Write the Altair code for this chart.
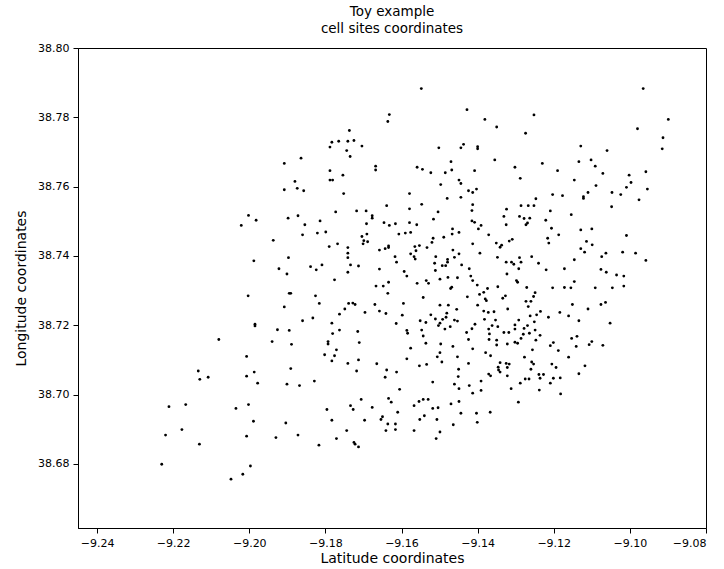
import altair as alt
import pandas as pd

# x values ("Latitude coordinates")
lat = [
 -9.1908, -9.1908, -9.2002, -9.1982, -9.2021, -9.1898,
 -9.1548, -9.1632, -9.1636, -9.1737, -9.1783, -9.1765, -9.1741, -9.1725, -9.1788, -9.1744,
 -9.1704, -9.1735, -9.1864, -9.1668, -9.1668, -9.1788, -9.1559, -9.1545, -9.1880, -9.1874,
 -9.1857, -9.1788, -9.1781, -9.1754, -9.1752, -9.1579, -9.1639, -9.1579, -9.1547, -9.1872,
 -9.1854, -9.1814, -9.1773, -9.1718, -9.1693, -9.1677, -9.1677, -9.1692, -9.1646, -9.1632,
 -9.1616, -9.1579, -9.1560,
 -9.1428, -9.1381, -9.1252, -9.1350, -9.1274, -9.1502, -9.1444, -9.1437, -9.1400, -9.1400,
 -9.1355, -9.1470, -9.1485, -9.1468, -9.1523, -9.1408, -9.1302, -9.1230, -9.1190, -9.1288,
 -9.1449, -9.1444, -9.1497, -9.1424, -9.1413, -9.1403, -9.1480, -9.1444, -9.1413, -9.1415,
 -9.1247, -9.1203, -9.1177, -9.1504, -9.1516, -9.1324, -9.1286, -9.1267, -9.1252, -9.1209,
 -9.1331, -9.1290, -9.1278, -9.1263, -9.1221, -9.1415, -9.1408, -9.1391, -9.1325, -9.1273,
 -9.1269, -9.1466, -9.1398, -9.1206,
 -9.0965, -9.0899, -9.0980, -9.0913, -9.0915, -9.1129, -9.1060, -9.1134, -9.1102, -9.1091,
 -9.1071, -9.1146, -9.1089, -9.1002, -9.0958, -9.0997, -9.1009, -9.0954, -9.1110, -9.1122,
 -9.1122, -9.1047, -9.1024, -9.0976, -9.1048, -9.1154, -9.1129, -9.1100,
 -9.1937, -9.1897, -9.1988, -9.1922, -9.1901, -9.1895, -9.2003, -9.1908, -9.1985, -9.1985,
 -9.1926, -9.1895, -9.2080, -9.1940, -9.2007, -9.2134, -9.2108, -9.2130, -9.2007, -9.1987,
 -9.1860, -9.1821, -9.1799, -9.1691, -9.1704, -9.1699, -9.1689, -9.1701, -9.1607, -9.1590,
 -9.1576, -9.1790, -9.1768, -9.1741, -9.1741, -9.1741, -9.1658, -9.1643, -9.1634, -9.1634,
 -9.1617, -9.1613, -9.1565, -9.1553, -9.1562, -9.1576, -9.1567, -9.1564, -9.1533, -9.1839,
 -9.1824, -9.1809, -9.1734, -9.1713, -9.1741, -9.1658, -9.1593, -9.1586, -9.1776, -9.1667,
 -9.1648, -9.1634, -9.1636, -9.1559, -9.1535, -9.1529, -9.1891, -9.1826, -9.1816, -9.1739,
 -9.1728, -9.1722, -9.1749, -9.1763, -9.1670, -9.1696, -9.1658, -9.1641, -9.1595, -9.1598,
 -9.1614, -9.1543, -9.1860, -9.1833, -9.1783, -9.1763, -9.1781, -9.1715, -9.1711, -9.1793,
 -9.1793, -9.1889, -9.1771, -9.1802, -9.1776, -9.1783, -9.1713, -9.1741, -9.1665, -9.1718,
 -9.1639, -9.1613, -9.1643, -9.1891, -9.1586, -9.1584, -9.1551, -9.1536, -9.1547, -9.1543,
 -9.1536, -9.1576, -9.1586, -9.1553, -9.1534,
 -9.1517, -9.1520, -9.1489, -9.1467, -9.1449, -9.1371, -9.1413, -9.1351, -9.1341, -9.1337,
 -9.1317, -9.1309, -9.1216, -9.1213, -9.1187, -9.1465, -9.1449, -9.1461, -9.1479, -9.1479,
 -9.1510, -9.1513, -9.1493, -9.1484, -9.1511, -9.1442, -9.1422, -9.1394, -9.1348, -9.1325,
 -9.1311, -9.1305, -9.1290, -9.1286, -9.1292, -9.1258, -9.1240, -9.1220, -9.1172, -9.1323,
 -9.1298, -9.1295, -9.1418, -9.1413, -9.1401, -9.1499, -9.1478, -9.1453, -9.1468, -9.1471,
 -9.1374, -9.1384, -9.1395, -9.1380, -9.1377, -9.1427, -9.1347, -9.1334, -9.1327, -9.1271,
 -9.1249, -9.1253, -9.1273, -9.1260, -9.1267, -9.1203, -9.1172, -9.1499, -9.1477, -9.1400,
 -9.1321, -9.1455, -9.1481, -9.1523, -9.1511, -9.1492, -9.1483, -9.1499, -9.1503, -9.1486,
 -9.1472, -9.1461, -9.1453, -9.1384, -9.1372, -9.1357, -9.1382, -9.1353, -9.1407, -9.1415,
 -9.1429, -9.1362, -9.1371, -9.1347, -9.1369, -9.1331, -9.1370, -9.1350, -9.1302, -9.1302,
 -9.1278, -9.1269, -9.1280, -9.1286, -9.1264, -9.1249, -9.1251, -9.1292, -9.1262, -9.1245,
 -9.1235, -9.1214, -9.1184, -9.1161, -9.1236, -9.1247, -9.1318, -9.1302, -9.1295, -9.1322,
 -9.1350, -9.1424, -9.1497, -9.1465, -9.1413, -9.1499, -9.1506, -9.1494, -9.1453, -9.1379,
 -9.1366, -9.1201, -9.1209, -9.1188, -9.1256, -9.1277, -9.1258, -9.1253, -9.1260, -9.1205,
 -9.1194, -9.1161, -9.1424, -9.1450, -9.1341, -9.1325, -9.1317, -9.1346, -9.1322, -9.1345,
 -9.1341, -9.1371, -9.1366, -9.1451, -9.1322, -9.1239, -9.1227, -9.1236, -9.1275, -9.1265,
 -9.1201, -9.1183,
 -9.1009, -9.1114, -9.1099, -9.1129, -9.1119, -9.1063, -9.1074, -9.1019, -9.0985, -9.0958,
 -9.1146, -9.1076, -9.1062, -9.1035, -9.1016, -9.1146, -9.1155, -9.1091, -9.1046, -9.1016,
 -9.1151, -9.1110, -9.1076, -9.1064, -9.1134, -9.1052, -9.1153, -9.1139, -9.1141, -9.1107,
 -9.1100, -9.1071, -9.1118, -9.1134,
 -9.1978, -9.1901, -9.2211, -9.2167, -9.2035, -9.2002, -9.1989, -9.1904, -9.2220, -9.2177,
 -9.2131, -9.2007, -9.1930, -9.2230, -9.1997, -9.2017, -9.2048,
 -9.1868, -9.1829, -9.1605, -9.1706, -9.1634, -9.1627, -9.1734, -9.1727, -9.1796, -9.1677,
 -9.1783, -9.1697, -9.1650, -9.1654, -9.1610, -9.1636, -9.1616, -9.1641, -9.1616, -9.1567,
 -9.1554, -9.1543, -9.1530, -9.1552, -9.1540, -9.1567, -9.1872, -9.1744, -9.1771, -9.1817,
 -9.1725, -9.1722, -9.1713,
 -9.1518, -9.1461, -9.1449, -9.1422, -9.1391, -9.1413, -9.1391, -9.1312, -9.1288, -9.1238,
 -9.1209, -9.1182, -9.1518, -9.1504, -9.1470, -9.1449, -9.1444, -9.1403, -9.1367, -9.1293,
 -9.1507, -9.1464, -9.1401, -9.1499, -9.1509,
]

# y values ("Longitude coordinates")
lon = [
 38.7667, 38.7591, 38.7517, 38.7503, 38.7488, 38.7509,
 38.7883, 38.7808, 38.7788, 38.7762, 38.7728, 38.7731, 38.7731, 38.7733, 38.7714, 38.7704,
 38.7717, 38.7687, 38.7682, 38.7659, 38.7648, 38.7646, 38.7656, 38.7650, 38.7615, 38.7595,
 38.7588, 38.7619, 38.7619, 38.7633, 38.7580, 38.7580, 38.7545, 38.7536, 38.7549, 38.7516,
 38.7490, 38.7501, 38.7527, 38.7530, 38.7530, 38.7516, 38.7509, 38.7493, 38.7496, 38.7488,
 38.7493, 38.7496, 38.7490,
 38.7822, 38.7794, 38.7807, 38.7772, 38.7754, 38.7712, 38.7712, 38.7722, 38.7715, 38.7709,
 38.7677, 38.7672, 38.7640, 38.7648, 38.7640, 38.7646, 38.7656, 38.7667, 38.7646, 38.7624,
 38.7619, 38.7609, 38.7606, 38.7588, 38.7583, 38.7593, 38.7566, 38.7569, 38.7548, 38.7531,
 38.7565, 38.7577, 38.7574, 38.7527, 38.7506, 38.7535, 38.7545, 38.7545, 38.7545, 38.7530,
 38.7514, 38.7514, 38.7508, 38.7509, 38.7503, 38.7501, 38.7497, 38.7488, 38.7490, 38.7490,
 38.7495, 38.7478, 38.7478, 38.7480,
 38.7883, 38.7794, 38.7767, 38.7741, 38.7709, 38.7717, 38.7704, 38.7672, 38.7677, 38.7659,
 38.7638, 38.7619, 38.7603, 38.7633, 38.7643, 38.7612, 38.7598, 38.7593, 38.7583, 38.7571,
 38.7566, 38.7583, 38.7577, 38.7562, 38.7542, 38.7519, 38.7475, 38.7478,
 38.7445, 38.7395, 38.7386, 38.7363, 38.7348, 38.7292, 38.7285, 38.7253, 38.7203, 38.7198,
 38.7187, 38.7185, 38.7159, 38.7153, 38.7110, 38.7068, 38.7050, 38.7044, 38.7053, 38.7065,
 38.7461, 38.7466, 38.7469, 38.7463, 38.7456, 38.7444, 38.7441, 38.7435, 38.7463, 38.7466,
 38.7468, 38.7427, 38.7435, 38.7424, 38.7408, 38.7395, 38.7417, 38.7421, 38.7429, 38.7424,
 38.7398, 38.7382, 38.7427, 38.7430, 38.7415, 38.7406, 38.7398, 38.7391, 38.7424, 38.7369,
 38.7360, 38.7374, 38.7374, 38.7371, 38.7353, 38.7362, 38.7355, 38.7342, 38.7331, 38.7313,
 38.7313, 38.7324, 38.7292, 38.7321, 38.7329, 38.7321, 38.7292, 38.7285, 38.7263, 38.7263,
 38.7264, 38.7260, 38.7247, 38.7232, 38.7260, 38.7237, 38.7241, 38.7234, 38.7263, 38.7229,
 38.7205, 38.7280, 38.7213, 38.7221, 38.7206, 38.7186, 38.7176, 38.7182, 38.7150, 38.7153,
 38.7146, 38.7145, 38.7129, 38.7115, 38.7112, 38.7097, 38.7100, 38.7090, 38.7089, 38.7068,
 38.7071, 38.7065, 38.7050, 38.7075, 38.7185, 38.7177, 38.7213, 38.7208, 38.7186, 38.7169,
 38.7148, 38.7134, 38.7103, 38.7083, 38.7087,
 38.7451, 38.7439, 38.7454, 38.7463, 38.7468, 38.7461, 38.7435, 38.7437, 38.7425, 38.7431,
 38.7443, 38.7448, 38.7451, 38.7437, 38.7461, 38.7417, 38.7406, 38.7396, 38.7390, 38.7382,
 38.7398, 38.7379, 38.7372, 38.7372, 38.7358, 38.7374, 38.7363, 38.7408, 38.7396, 38.7382,
 38.7382, 38.7376, 38.7395, 38.7382, 38.7363, 38.7398, 38.7379, 38.7360, 38.7363, 38.7348,
 38.7329, 38.7324, 38.7342, 38.7329, 38.7316, 38.7333, 38.7338, 38.7337, 38.7310, 38.7306,
 38.7306, 38.7295, 38.7289, 38.7276, 38.7271, 38.7282, 38.7311, 38.7278, 38.7285, 38.7309,
 38.7294, 38.7283, 38.7269, 38.7269, 38.7254, 38.7308, 38.7309, 38.7258, 38.7258, 38.7258,
 38.7247, 38.7246, 38.7235, 38.7230, 38.7218, 38.7217, 38.7223, 38.7206, 38.7199, 38.7189,
 38.7196, 38.7215, 38.7212, 38.7241, 38.7237, 38.7239, 38.7217, 38.7215, 38.7203, 38.7190,
 38.7179, 38.7199, 38.7189, 38.7196, 38.7175, 38.7179, 38.7159, 38.7157, 38.7201, 38.7189,
 38.7191, 38.7199, 38.7174, 38.7162, 38.7177, 38.7186, 38.7210, 38.7215, 38.7227, 38.7230,
 38.7240, 38.7223, 38.7237, 38.7227, 38.7171, 38.7157, 38.7179, 38.7151, 38.7148, 38.7146,
 38.7143, 38.7159, 38.7146, 38.7139, 38.7132, 38.7121, 38.7109, 38.7094, 38.7109, 38.7121,
 38.7112, 38.7150, 38.7141, 38.7127, 38.7129, 38.7108, 38.7094, 38.7088, 38.7073, 38.7088,
 38.7078, 38.7108, 38.7090, 38.7073, 38.7092, 38.7090, 38.7088, 38.7079, 38.7078, 38.7071,
 38.7065, 38.7059, 38.7054, 38.7052, 38.7054, 38.7058, 38.7058, 38.7047, 38.7045, 38.7045,
 38.7047, 38.7048,
 38.7459, 38.7442, 38.7432, 38.7421, 38.7411, 38.7408, 38.7398, 38.7411, 38.7408, 38.7387,
 38.7389, 38.7361, 38.7353, 38.7345, 38.7342, 38.7326, 38.7308, 38.7308, 38.7308, 38.7313,
 38.7260, 38.7247, 38.7260, 38.7266, 38.7213, 38.7206, 38.7162, 38.7168, 38.7139, 38.7144,
 38.7153, 38.7142, 38.7083, 38.7060,
 38.7033, 38.7030, 38.6965, 38.6971, 38.6960, 38.6971, 38.6923, 38.6918, 38.6883, 38.6899,
 38.6857, 38.6880, 38.6876, 38.6799, 38.6794, 38.6770, 38.6756,
 38.7026, 38.7039, 38.7015, 38.6986, 38.6989, 38.6978, 38.6968, 38.6957, 38.6957, 38.6963,
 38.6926, 38.6926, 38.6936, 38.6928, 38.6949, 38.6915, 38.6915, 38.6896, 38.6899, 38.6968,
 38.6980, 38.6986, 38.6986, 38.6928, 38.6939, 38.6896, 38.6883, 38.6896, 38.6873, 38.6854,
 38.6862, 38.6857, 38.6849,
 38.7036, 38.7030, 38.7017, 38.7026, 38.7039, 38.7004, 38.7012, 38.7017, 38.7033, 38.7013,
 38.7033, 38.7002, 38.6960, 38.6962, 38.6973, 38.6980, 38.6946, 38.6946, 38.6949, 38.6978,
 38.6928, 38.6913, 38.6920, 38.6892, 38.6873,
]

x_ticks = [-9.24, -9.22, -9.20, -9.18, -9.16, -9.14, -9.12, -9.10, -9.08]
y_ticks = [38.68, 38.70, 38.72, 38.74, 38.76, 38.78, 38.80]

n = min(len(lat), len(lon))
df = pd.DataFrame({"lat": lat[:n], "lon": lon[:n]})

FONT = "DejaVu Sans"

chart = (
    alt.Chart(df)
    .mark_circle(size=8, color="black", opacity=1)
    .encode(
        x=alt.X("lat:Q",
                scale=alt.Scale(domain=[-9.245, -9.08], nice=False, zero=False),
                axis=alt.Axis(values=x_ticks, format=".2f", title="Latitude coordinates")),
        y=alt.Y("lon:Q",
                scale=alt.Scale(domain=[38.6615, 38.80], nice=False, zero=False),
                axis=alt.Axis(values=y_ticks, format=".2f", title="Longitude coordinates")),
    )
    .properties(
        width=628,
        height=480,
        title=alt.TitleParams(["Toy example", "cell sites coordinates"],
                              fontSize=13.5, fontWeight="normal", font=FONT,
                              color="black", anchor="middle", offset=7, lineHeight=17),
        autosize=alt.AutoSizeParams(type="none"),
        padding={"left": 78, "top": 48, "right": 18, "bottom": 41},
    )
    .configure_view(stroke="black", strokeWidth=1)
    .configure_axis(
        grid=False,
        domainColor="black",
        tickColor="black",
        tickSize=5,
        labelColor="black",
        labelFont=FONT,
        labelFontSize=11,
        labelPadding=4,
        titleFont=FONT,
        titleFontSize=14,
        titleFontWeight="normal",
        titleColor="black",
    )
    .configure_axisX(titlePadding=3)
    .configure_axisY(titlePadding=9)
)

chart.save("out.html", embed_options={"renderer": "svg", "actions": False})
